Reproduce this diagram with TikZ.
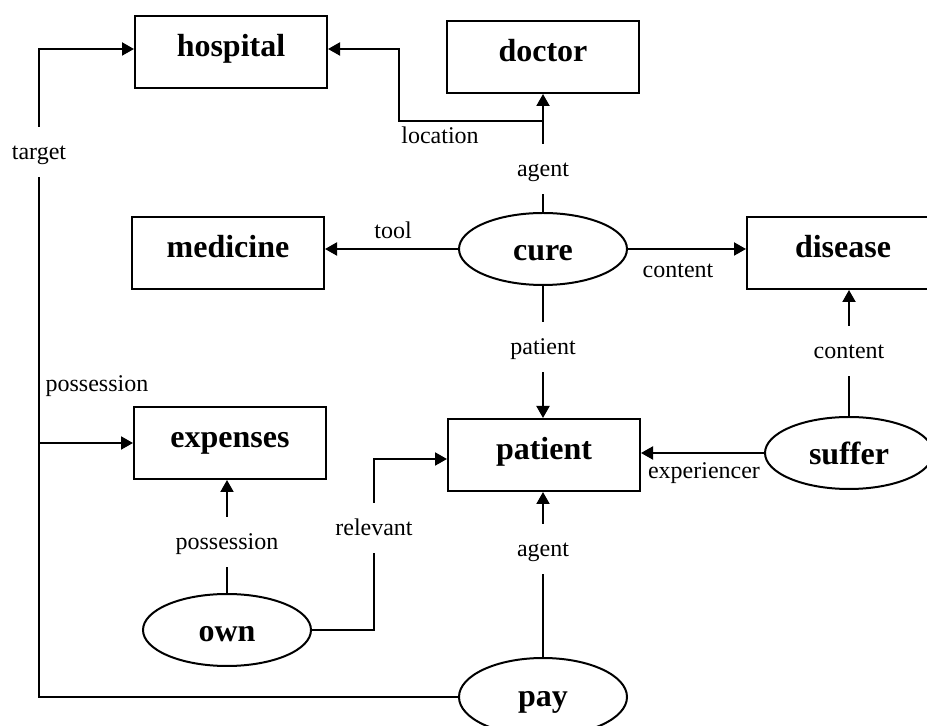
\documentclass[tikz,border=0pt]{standalone}
\usepackage{fontspec}
\setmainfont{Liberation Serif}
\usetikzlibrary{arrows.meta,calc,shapes.geometric}

\tikzset{
  concept/.style={draw, line width=1pt, rectangle, minimum width=96pt, minimum height=36pt,
    inner sep=0pt, text height=8pt, text depth=3pt,
    font=\fontsize{16}{19}\selectfont\bfseries},
  relation/.style={draw, line width=1pt, ellipse, minimum width=84pt, minimum height=36pt,
    inner sep=0pt, text height=12pt, text depth=0pt,
    font=\fontsize{16}{19}\selectfont\bfseries},
  rolelabel/.style={inner sep=0pt, minimum height=25pt, text height=10pt, text depth=2pt,
    font=\fontsize{12}{14}\selectfont},
  freelabel/.style={inner sep=0pt, text height=10pt, text depth=2pt,
    font=\fontsize{12}{14}\selectfont},
  link/.style={line width=1pt},
  arr/.style={line width=1pt, -{Triangle[length=6pt,width=6.5pt]}},
}

\begin{document}
\begin{tikzpicture}[x=0.5pt, y=-0.5pt]
  \useasboundingbox (0,0) rectangle (927,726);
  \clip (0,0) rectangle (927,726);

  % concept boxes
  \node[concept] (hospital) at (231,52)  {hospital};
  \node[concept] (doctor)   at (543,57)  {doctor};
  \node[concept] (medicine) at (228,253) {medicine};
  \node[concept] (disease)  at (843,253) {disease};
  \node[concept] (expenses) at (230,443) {expenses};
  \node[concept] (patient)  at (544,455) {patient};

  % relation ellipses
  \node[relation] (cure)   at (543,249) {cure};
  \node[relation] (suffer) at (849,453) {suffer};
  \node[relation] (own)    at (227,630) {own};
  \node[relation, minimum height=39pt, text height=10pt] (pay) at (543,697) {pay};

  % role labels that interrupt a connector
  \node[rolelabel] (agentA)  at (543,169) {agent};
  \node[rolelabel] (patA)    at (543,347) {patient};
  \node[rolelabel] (contB)   at (849,351) {content};
  \node[rolelabel] (possB)   at (227,542) {possession};
  \node[rolelabel] (relA)    at (374,528) {relevant};
  \node[rolelabel] (agentB)  at (543,549) {agent};
  \node[rolelabel] (target)  at (39,152)  {target};

  % role labels beside a connector
  \node[freelabel] (locL)  at (440,136) {location};
  \node[freelabel] (toolL) at (393,231) {tool};
  \node[freelabel] (contA) at (678,270) {content};
  \node[freelabel] (expL)  at (704,471) {experiencer};
  \node[freelabel] (possA) at (97,384)  {possession};

  % cure: agent, location, tool, content, patient
  \draw[link] (cure.north) -- (agentA.south);
  \draw[arr] (agentA.north) -- (doctor.south);
  \coordinate (locStart) at (543,121);
  \coordinate (locBend)  at (399,121);
  \draw[arr] (locStart) -- (locBend) |- ($(hospital.east)+(0,-3)$);
  \draw[arr] (cure.west) -- (cure.west -| medicine.east);
  \draw[arr] (cure.east) -- (cure.east -| disease.west);
  \draw[link] (cure.south) -- (patA.north);
  \draw[arr] (patA.south) -- (patA.south |- patient.north);

  % suffer: content, experiencer
  \draw[link] (suffer.north) -- (contB.south);
  \draw[arr] (contB.north) -- (contB.north |- disease.south);
  \draw[arr] (suffer.west) -- (suffer.west -| patient.east);

  % own: possession, relevant
  \draw[link] (own.north) -- (possB.south);
  \draw[arr] (possB.north) -- (possB.north |- expenses.south);
  \draw[link] (own.east) -| (relA.south);
  \draw[arr] (relA.north) |- ($(patient.west)+(0,4)$);

  % pay: agent, target, possession
  \draw[link] (pay.north) -- (agentB.south);
  \draw[arr] (agentB.north) -- (agentB.north |- patient.south);
  \draw[link] (pay.west) -| (target.south);
  \draw[arr] (target.north) |- ($(hospital.west)+(0,-3)$);
  \coordinate (branch) at (target |- expenses);
  \draw[arr] (branch) -- (expenses.west);
\end{tikzpicture}
\end{document}
